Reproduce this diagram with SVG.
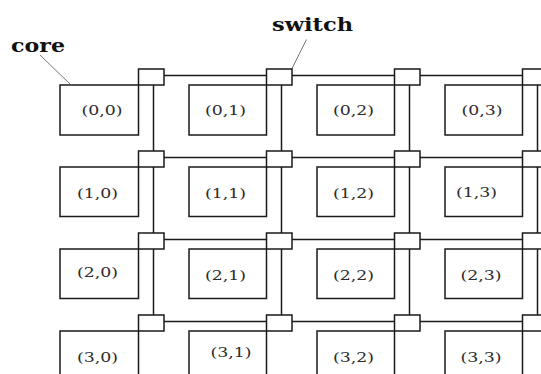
<svg xmlns="http://www.w3.org/2000/svg" width="541" height="374" viewBox="0 0 541 374">
<style>
.core{fill:#fff;stroke:#1a1a1a;stroke-width:1.5}
.sw{fill:#fff;stroke:#1a1a1a;stroke-width:1.5}
.ln{stroke:#1a1a1a;stroke-width:1.5;fill:none}
.ld{stroke:#777;stroke-width:1;fill:none}
.lb{font-family:"DejaVu Serif","Liberation Serif",serif;font-size:12px;fill:#2b2b2b}
.tt{font-family:"DejaVu Serif","Liberation Serif",serif;font-size:19px;font-weight:bold;fill:#111}
</style>
<rect width="541" height="374" fill="#fff"/>
<g id="connectors">
<line class="ln" x1="164" y1="75.5" x2="266.5" y2="75.5"/>
<line class="ln" x1="292" y1="75.5" x2="394.5" y2="75.5"/>
<line class="ln" x1="420" y1="75.5" x2="522.5" y2="75.5"/>
<line class="ln" x1="164" y1="157.5" x2="266.5" y2="157.5"/>
<line class="ln" x1="292" y1="157.5" x2="394.5" y2="157.5"/>
<line class="ln" x1="420" y1="157.5" x2="522.5" y2="157.5"/>
<line class="ln" x1="164" y1="239.5" x2="266.5" y2="239.5"/>
<line class="ln" x1="292" y1="239.5" x2="394.5" y2="239.5"/>
<line class="ln" x1="420" y1="239.5" x2="522.5" y2="239.5"/>
<line class="ln" x1="164" y1="321.5" x2="266.5" y2="321.5"/>
<line class="ln" x1="292" y1="321.5" x2="394.5" y2="321.5"/>
<line class="ln" x1="420" y1="321.5" x2="522.5" y2="321.5"/>
<line class="ln" x1="153.5" y1="85" x2="153.5" y2="151"/>
<line class="ln" x1="281.5" y1="85" x2="281.5" y2="151"/>
<line class="ln" x1="409.5" y1="85" x2="409.5" y2="151"/>
<line class="ln" x1="537.5" y1="85" x2="537.5" y2="151"/>
<line class="ln" x1="153.5" y1="167" x2="153.5" y2="233"/>
<line class="ln" x1="281.5" y1="167" x2="281.5" y2="233"/>
<line class="ln" x1="409.5" y1="167" x2="409.5" y2="233"/>
<line class="ln" x1="537.5" y1="167" x2="537.5" y2="233"/>
<line class="ln" x1="153.5" y1="249" x2="153.5" y2="315"/>
<line class="ln" x1="281.5" y1="249" x2="281.5" y2="315"/>
<line class="ln" x1="409.5" y1="249" x2="409.5" y2="315"/>
<line class="ln" x1="537.5" y1="249" x2="537.5" y2="315"/>
<line class="ld" x1="40" y1="55" x2="70" y2="84"/>
<line class="ld" x1="306.5" y1="39.5" x2="291.5" y2="69.5"/>
</g>
<text class="tt" x="11" y="52" textLength="54" lengthAdjust="spacingAndGlyphs">core</text>
<text class="tt" x="272" y="30.5" textLength="81" lengthAdjust="spacingAndGlyphs">switch</text>
<g id="core-0-0"><rect class="core" x="60" y="85" width="78.5" height="50"/><text class="lb" x="81.5" y="114.5" textLength="41" lengthAdjust="spacingAndGlyphs">(0,0)</text></g>
<g id="core-0-1"><rect class="core" x="189" y="85" width="77.5" height="50"/><text class="lb" x="205" y="114.5" textLength="41" lengthAdjust="spacingAndGlyphs">(0,1)</text></g>
<g id="core-0-2"><rect class="core" x="317" y="85" width="77.5" height="50"/><text class="lb" x="333" y="114.5" textLength="41" lengthAdjust="spacingAndGlyphs">(0,2)</text></g>
<g id="core-0-3"><rect class="core" x="445" y="85" width="77.5" height="50"/><text class="lb" x="461.5" y="114.5" textLength="41" lengthAdjust="spacingAndGlyphs">(0,3)</text></g>
<g id="core-1-0"><rect class="core" x="60" y="167" width="78.5" height="49.5"/><text class="lb" x="77" y="197.5" textLength="41" lengthAdjust="spacingAndGlyphs">(1,0)</text></g>
<g id="core-1-1"><rect class="core" x="189" y="167" width="77.5" height="49.5"/><text class="lb" x="205" y="197.5" textLength="41" lengthAdjust="spacingAndGlyphs">(1,1)</text></g>
<g id="core-1-2"><rect class="core" x="317" y="167" width="77.5" height="49.5"/><text class="lb" x="333" y="197.5" textLength="41" lengthAdjust="spacingAndGlyphs">(1,2)</text></g>
<g id="core-1-3"><rect class="core" x="445" y="167" width="77.5" height="49.5"/><text class="lb" x="456" y="197" textLength="41" lengthAdjust="spacingAndGlyphs">(1,3)</text></g>
<g id="core-2-0"><rect class="core" x="60" y="249" width="78.5" height="49.5"/><text class="lb" x="77" y="276.5" textLength="41" lengthAdjust="spacingAndGlyphs">(2,0)</text></g>
<g id="core-2-1"><rect class="core" x="189" y="249" width="77.5" height="49.5"/><text class="lb" x="205" y="280" textLength="41" lengthAdjust="spacingAndGlyphs">(2,1)</text></g>
<g id="core-2-2"><rect class="core" x="317" y="249" width="77.5" height="49.5"/><text class="lb" x="333" y="279.5" textLength="41" lengthAdjust="spacingAndGlyphs">(2,2)</text></g>
<g id="core-2-3"><rect class="core" x="445" y="249" width="77.5" height="49.5"/><text class="lb" x="460.5" y="279.5" textLength="41" lengthAdjust="spacingAndGlyphs">(2,3)</text></g>
<g id="core-3-0"><rect class="core" x="60" y="331" width="78.5" height="50"/><text class="lb" x="77" y="361.5" textLength="41" lengthAdjust="spacingAndGlyphs">(3,0)</text></g>
<g id="core-3-1"><rect class="core" x="189" y="331" width="77.5" height="50"/><text class="lb" x="210.5" y="357" textLength="41" lengthAdjust="spacingAndGlyphs">(3,1)</text></g>
<g id="core-3-2"><rect class="core" x="317" y="331" width="77.5" height="50"/><text class="lb" x="333" y="362" textLength="41" lengthAdjust="spacingAndGlyphs">(3,2)</text></g>
<g id="core-3-3"><rect class="core" x="445" y="331" width="77.5" height="50"/><text class="lb" x="460.5" y="362" textLength="41" lengthAdjust="spacingAndGlyphs">(3,3)</text></g>
<g id="switch-0-0"><rect class="sw" x="138.5" y="69" width="25.5" height="16"/></g>
<g id="switch-0-1"><rect class="sw" x="266.5" y="69" width="25.5" height="16"/></g>
<g id="switch-0-2"><rect class="sw" x="394.5" y="69" width="25.5" height="16"/></g>
<g id="switch-0-3"><rect class="sw" x="522.5" y="69" width="25.5" height="16"/></g>
<g id="switch-1-0"><rect class="sw" x="138.5" y="151" width="25.5" height="16"/></g>
<g id="switch-1-1"><rect class="sw" x="266.5" y="151" width="25.5" height="16"/></g>
<g id="switch-1-2"><rect class="sw" x="394.5" y="151" width="25.5" height="16"/></g>
<g id="switch-1-3"><rect class="sw" x="522.5" y="151" width="25.5" height="16"/></g>
<g id="switch-2-0"><rect class="sw" x="138.5" y="233" width="25.5" height="16"/></g>
<g id="switch-2-1"><rect class="sw" x="266.5" y="233" width="25.5" height="16"/></g>
<g id="switch-2-2"><rect class="sw" x="394.5" y="233" width="25.5" height="16"/></g>
<g id="switch-2-3"><rect class="sw" x="522.5" y="233" width="25.5" height="16"/></g>
<g id="switch-3-0"><rect class="sw" x="138.5" y="315" width="25.5" height="16"/></g>
<g id="switch-3-1"><rect class="sw" x="266.5" y="315" width="25.5" height="16"/></g>
<g id="switch-3-2"><rect class="sw" x="394.5" y="315" width="25.5" height="16"/></g>
<g id="switch-3-3"><rect class="sw" x="522.5" y="315" width="25.5" height="16"/></g>
</svg>
